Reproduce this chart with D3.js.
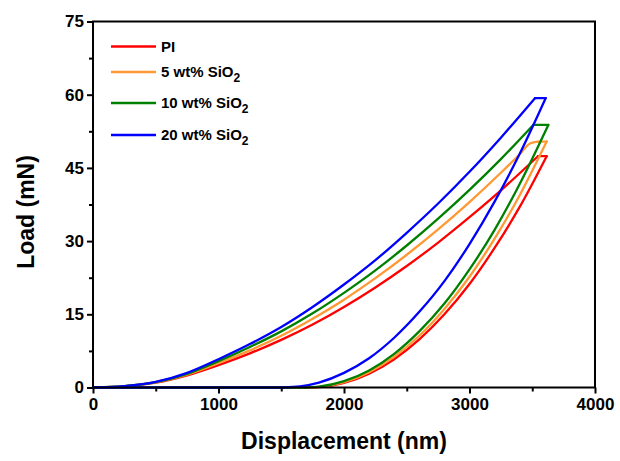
<!DOCTYPE html>
<html><head><meta charset="utf-8">
<script src="https://cdn.jsdelivr.net/npm/d3@7"></script>
<style>body{margin:0;background:#fff}svg{display:block}text{font-family:"Liberation Sans",Arial,sans-serif;font-weight:bold}</style>
</head><body><svg id="c" width="620" height="461"></svg>
<script>
// ---- data ----
const seriesNames = ["PI", "5 wt% SiO", "10 wt% SiO", "20 wt% SiO"];
const seriesSub = ["", "2", "2", "2"];
const seriesColors = ["#ff0000", "#ff9933", "#008000", "#0000ff"];
const xTicks = [0, 1000, 2000, 3000, 4000];
const yTicks = [0, 15, 30, 45, 60, 75];

// loading branches [displacement nm, load mN]
const loadPI = [[0,0],[250,0.25],[500,1.0],[750,2.5],[1000,4.6],[1250,7.0],[1500,9.75],[1750,12.9],[2000,16.5],[2250,20.5],[2500,24.9],[2750,29.7],[3000,34.9],[3250,40.4],[3546,47.4]];
const load5 = [[0,0],[250,0.27],[500,1.05],[750,2.65],[1000,5.0],[1250,7.6],[1500,10.6],[1750,14.1],[2000,18.0],[2250,22.4],[2500,27.2],[2750,32.4],[3000,38.0],[3250,44.0],[3400,47.8],[3482,50.0],[3545,50.4]];
const load10 = [[0,0],[250,0.28],[500,1.1],[750,2.8],[1000,5.4],[1250,8.3],[1500,11.5],[1750,15.2],[2000,19.4],[2250,24.0],[2500,29.1],[2750,34.6],[3000,40.5],[3250,46.8],[3508,53.8]];
const load20 = [[0,0],[250,0.3],[500,1.15],[750,3.0],[1000,5.8],[1250,8.9],[1500,12.4],[1750,16.5],[2000,21.1],[2250,26.1],[2500,31.7],[2750,37.7],[3000,44.2],[3250,51.2],[3522,59.3]];
// unloading branches (listed by increasing displacement, ending at the end of the hold)
const unloadPI = [[1719,0],[1800,0.07],[2000,0.95],[2200,2.85],[2400,5.8],[2600,9.85],[2800,15.0],[3000,21.2],[3200,28.6],[3400,37.0],[3615,47.4]];
const unload5 = [[1706,0],[1800,0.1],[2000,1.1],[2200,3.15],[2400,6.3],[2600,10.6],[2800,16.1],[3000,22.7],[3200,30.5],[3400,39.4],[3615,50.4]];
const unload10 = [[1685,0],[1800,0.16],[2000,1.3],[2200,3.5],[2400,6.9],[2600,11.5],[2800,17.2],[3000,24.2],[3200,32.3],[3400,41.7],[3628,53.8]];
const unload20 = [[1514,0],[1650,0.22],[1800,1.0],[2000,3.0],[2200,6.0],[2400,10.2],[2600,15.5],[2800,21.8],[3000,29.4],[3200,38.1],[3400,47.9],[3607,59.3]];

const loads = [loadPI, load5, load10, load20];
const unloads = [unloadPI, unload5, unload10, unload20];

// ---- chart ----
const svg = d3.select("#c");
const x = d3.scaleLinear().domain([0, 4000]).range([93, 595]);
const y = d3.scaleLinear().domain([0, 75]).range([387.5, 21.5]);

const lineSmooth = d3.line().x(d => x(d[0])).y(d => y(d[1])).curve(d3.curveMonotoneX);
const lineStraight = d3.line().x(d => x(d[0])).y(d => y(d[1]));

const g = svg.append("g");
for (let i = 0; i < 4; i++) {
  const c = seriesColors[i];
  const L = loads[i], U = unloads[i];
  const st = p => p.attr("fill", "none").attr("stroke", c).attr("stroke-width", 2.3).attr("stroke-linejoin", "round").attr("stroke-linecap", "round");
  st(g.append("path").attr("d", lineSmooth(L)));
  st(g.append("path").attr("d", lineStraight([L[L.length - 1], U[U.length - 1]])));
  st(g.append("path").attr("d", lineSmooth(U)));
  st(g.append("path").attr("d", lineStraight([[0, 0], U[0]])));
}

// frame
svg.append("rect").attr("x", x(0)).attr("y", y(75)).attr("width", x(4000) - x(0)).attr("height", y(0) - y(75))
  .attr("fill", "none").attr("stroke", "#000").attr("stroke-width", 2);

// axes
const xAxis = d3.axisBottom(x).tickValues(xTicks).tickSize(6).tickPadding(4).tickFormat(d3.format("d"));
const xMinor = d3.axisBottom(x).tickValues([500, 1500, 2500, 3500]).tickSize(4).tickFormat("");
const yAxis = d3.axisLeft(y).tickValues(yTicks).tickSize(6).tickPadding(3).tickFormat(d3.format("d"));
const yMinor = d3.axisLeft(y).tickValues([7.5, 22.5, 37.5, 52.5, 67.5]).tickSize(4).tickFormat("");

function style(sel) {
  sel.select(".domain").remove();
  sel.selectAll("line").attr("stroke", "#000").attr("stroke-width", 2);
  sel.selectAll("text").attr("fill", "#000").style("font-size", "17px").style("font-weight", "bold");
}
svg.append("g").attr("transform", `translate(0,${y(0)})`).call(xAxis).call(style);
svg.append("g").attr("transform", `translate(0,${y(0)})`).call(xMinor).call(style);
svg.append("g").attr("transform", `translate(${x(0)},0)`).call(yAxis).call(style);
svg.append("g").attr("transform", `translate(${x(0)},0)`).call(yMinor).call(style);

// titles
svg.append("text").attr("x", (x(0) + x(4000)) / 2).attr("y", 449).attr("text-anchor", "middle")
  .style("font-size", "23px").text("Displacement (nm)");
svg.append("text").attr("transform", `translate(34,212) rotate(-90)`).attr("text-anchor", "middle")
  .style("font-size", "23px").text("Load (mN)");

// legend
const legY = [46.5, 72, 103, 135];
const leg = svg.append("g");
seriesNames.forEach((n, i) => {
  leg.append("line").attr("x1", 111).attr("x2", 156).attr("y1", legY[i]).attr("y2", legY[i])
    .attr("stroke", seriesColors[i]).attr("stroke-width", 2.3);
  const t = leg.append("text").attr("x", 161).attr("y", legY[i] + 5).style("font-size", "15px").text(n);
  if (seriesSub[i]) t.append("tspan").attr("dy", 5).style("font-size", "12px").text(seriesSub[i]);
});
</script></body></html>
